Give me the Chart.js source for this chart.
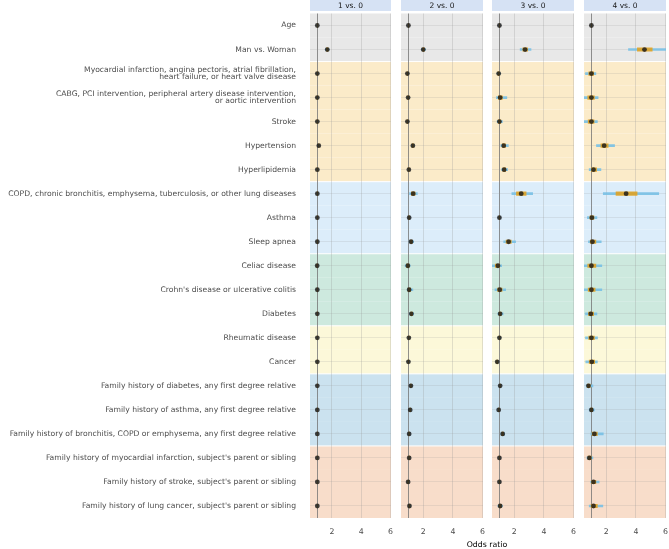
<!DOCTYPE html>
<html>
<head>
<meta charset="utf-8">
<script src="https://cdn.jsdelivr.net/npm/chart.js@4"></script>
<style>
  body { margin: 0; background: #fff; width: 669px; height: 549px; overflow: hidden; position: relative; font-family: 'DejaVu Sans', sans-serif; }
  canvas { position: absolute; top: 0; }
  #xtitle { position: absolute; left: 437px; width: 100px; top: 539px; text-align: center; font-size: 7.8px; line-height: 12px; color: #000; }
</style>
</head>
<body>
<canvas id="p0" width="395" height="549" style="left:0px"></canvas>
<canvas id="p1" width="86" height="549" style="left:401px"></canvas>
<canvas id="p2" width="86" height="549" style="left:492px"></canvas>
<canvas id="p3" width="86" height="549" style="left:584px"></canvas>
<div id="xtitle">Odds ratio</div>
<script>
// rows (top to bottom) and the group each row belongs to
const rowLabels = [
  'Age',
  'Man vs. Woman',
  ['Myocardial infarction, angina pectoris, atrial fibrillation,', 'heart failure, or heart valve disease'],
  ['CABG, PCI intervention, peripheral artery disease intervention,', 'or aortic intervention'],
  'Stroke',
  'Hypertension',
  'Hyperlipidemia',
  'COPD, chronic bronchitis, emphysema, tuberculosis, or other lung diseases',
  'Asthma',
  'Sleep apnea',
  'Celiac disease',
  "Crohn's disease or ulcerative colitis",
  'Diabetes',
  'Rheumatic disease',
  'Cancer',
  'Family history of diabetes, any first degree relative',
  'Family history of asthma, any first degree relative',
  'Family history of bronchitis, COPD or emphysema, any first degree relative',
  "Family history of myocardial infarction, subject's parent or sibling",
  "Family history of stroke, subject's parent or sibling",
  "Family history of lung cancer, subject's parent or sibling"
];
const groups = [0, 0, 1, 1, 1, 1, 1, 2, 2, 2, 3, 3, 3, 4, 4, 5, 5, 5, 6, 6, 6];
const panels = ['1 vs. 0', '2 vs. 0', '3 vs. 0', '4 vs. 0'];
const xTicks = [1, 2, 4, 6];

// point estimates (odds ratios), one array per panel
const est = [
  [1.0, 1.68, 1.0, 1.0, 1.0, 1.1, 1.0, 1.0, 1.0, 1.0, 0.99, 1.0, 1.0, 1.0, 1.0, 1.0, 1.0, 1.0, 1.0, 1.0, 1.0],
  [1.0, 2.0, 0.93, 0.98, 0.93, 1.3, 1.03, 1.32, 1.05, 1.18, 0.96, 1.05, 1.2, 1.03, 1.0, 1.17, 1.12, 1.05, 1.05, 0.98, 1.07],
  [1.0, 2.73, 0.95, 1.05, 1.0, 1.29, 1.32, 2.47, 1.0, 1.62, 0.9, 1.02, 1.05, 1.0, 0.85, 1.05, 0.95, 1.22, 1.0, 1.0, 1.05],
  [1.0, 4.58, 1.0, 1.0, 1.0, 1.86, 1.14, 3.34, 1.03, 1.07, 1.0, 1.0, 0.96, 1.0, 1.03, 0.8, 1.0, 1.2, 0.86, 1.14, 1.14]
];
// wide interval
const outerLo = [
  [0.98, 1.55, 0.95, 0.95, 0.95, 1.05, 0.97, 0.96, 0.98, 0.96, 0.92, 0.95, 0.96, 0.97, 0.97, 0.98, 0.98, 0.97, 0.98, 0.98, 0.97],
  [0.98, 1.88, 0.88, 0.92, 0.88, 1.22, 0.98, 1.08, 1.0, 1.05, 0.78, 0.92, 1.08, 0.98, 0.95, 1.1, 1.06, 0.98, 1.0, 0.92, 1.0],
  [0.97, 2.4, 0.85, 0.8, 0.85, 1.1, 1.15, 1.84, 0.95, 1.29, 0.48, 0.7, 0.9, 0.95, 0.8, 1.0, 0.9, 1.1, 0.95, 0.95, 0.9],
  [0.97, 3.5, 0.6, 0.45, 0.5, 1.34, 0.85, 1.8, 0.73, 0.8, 0.4, 0.52, 0.6, 0.6, 0.62, 0.65, 0.85, 0.96, 0.7, 0.95, 0.85]
];
const outerHi = [
  [1.02, 1.8, 1.05, 1.05, 1.05, 1.15, 1.05, 1.05, 1.02, 1.05, 1.05, 1.06, 1.05, 1.03, 1.03, 1.03, 1.02, 1.04, 1.02, 1.02, 1.04],
  [1.02, 2.15, 1.0, 1.05, 1.0, 1.38, 1.08, 1.6, 1.1, 1.35, 1.12, 1.3, 1.35, 1.08, 1.05, 1.24, 1.18, 1.12, 1.1, 1.05, 1.15],
  [1.03, 3.13, 1.05, 1.5, 1.2, 1.6, 1.55, 3.24, 1.05, 2.09, 1.15, 1.42, 1.25, 1.08, 0.92, 1.1, 1.0, 1.35, 1.05, 1.07, 1.2],
  [1.03, 6.3, 1.3, 1.45, 1.4, 2.56, 1.64, 5.54, 1.37, 1.66, 1.7, 1.7, 1.37, 1.41, 1.4, 1.1, 1.2, 1.8, 1.1, 1.52, 1.77]
];
// narrow interval
const innerLo = [
  [0.99, 1.62, 0.98, 0.98, 0.98, 1.08, 0.99, 0.98, 0.99, 0.98, 0.95, 0.98, 0.98, 0.99, 0.99, 0.99, 0.99, 0.99, 0.99, 0.99, 0.99],
  [0.99, 1.95, 0.9, 0.95, 0.9, 1.26, 1.0, 1.2, 1.02, 1.12, 0.88, 0.98, 1.14, 1.0, 0.98, 1.14, 1.09, 1.02, 1.02, 0.95, 1.03],
  [0.99, 2.58, 0.9, 0.93, 0.93, 1.2, 1.24, 2.15, 0.98, 1.45, 0.72, 0.88, 0.98, 0.98, 0.82, 1.03, 0.93, 1.16, 0.98, 0.98, 0.98],
  [0.99, 4.1, 0.82, 0.75, 0.78, 1.64, 1.0, 2.66, 0.9, 0.92, 0.75, 0.78, 0.8, 0.82, 0.85, 0.72, 0.93, 1.05, 0.78, 1.02, 0.98]
];
const innerHi = [
  [1.01, 1.74, 1.02, 1.02, 1.02, 1.12, 1.02, 1.02, 1.01, 1.02, 1.02, 1.02, 1.02, 1.01, 1.01, 1.01, 1.01, 1.01, 1.01, 1.01, 1.01],
  [1.01, 2.07, 0.96, 1.01, 0.96, 1.34, 1.06, 1.45, 1.08, 1.25, 1.04, 1.15, 1.28, 1.05, 1.02, 1.2, 1.15, 1.08, 1.08, 1.01, 1.1],
  [1.01, 2.9, 1.0, 1.2, 1.08, 1.4, 1.42, 2.8, 1.02, 1.8, 1.02, 1.18, 1.12, 1.03, 0.88, 1.07, 0.98, 1.28, 1.02, 1.03, 1.12],
  [1.01, 5.1, 1.15, 1.2, 1.18, 2.13, 1.35, 4.08, 1.17, 1.3, 1.3, 1.25, 1.15, 1.2, 1.22, 0.92, 1.08, 1.4, 0.98, 1.3, 1.4]
];

const bandColors = ['#e8e8e8', '#fbebc9', '#dcedfa', '#cde9de', '#fcf8d9', '#cbe2ef', '#f8ddca'];
const stripColor = '#d6e2f4';
const textColor = '#4d4d4d';
const fontFamily = "'DejaVu Sans', sans-serif";

const bandPlugin = {
  id: 'bands',
  beforeDraw(chart) {
    const { ctx, chartArea: a, scales: { y } } = chart;
    const step = y.getPixelForValue(1) - y.getPixelForValue(0);
    const w = a.right - a.left;
    ctx.save();
    ctx.fillStyle = stripColor;
    ctx.fillRect(a.left, 0, w, 11);
    groups.forEach((g, i) => {
      ctx.fillStyle = bandColors[g];
      ctx.fillRect(a.left, y.getPixelForValue(i) - step / 2, w, step);
    });
    ctx.fillStyle = '#ffffff';
    groups.forEach((g, i) => {
      if (i > 0 && g !== groups[i - 1]) {
        ctx.fillRect(a.left, y.getPixelForValue(i) - step / 2 - 0.5, w, 1);
      }
    });
    ctx.restore();
  }
};

function makeChart(p) {
  const first = p === 0;
  new Chart(document.getElementById('p' + p), {
    type: 'bar',
    data: {
      labels: rowLabels,
      datasets: [
        {
          type: 'line',
          data: est[p],
          showLine: false,
          pointRadius: 2.4,
          pointBorderWidth: 0,
          pointBackgroundColor: 'rgba(25,25,25,0.82)',
          order: 0
        },
        {
          type: 'bar',
          data: innerLo[p].map((v, i) => [v, innerHi[p][i]]),
          backgroundColor: 'rgba(228,160,25,0.85)',
          barThickness: 3.5,
          grouped: false,
          order: 1
        },
        {
          type: 'bar',
          data: outerLo[p].map((v, i) => [v, outerHi[p][i]]),
          backgroundColor: 'rgba(120,192,228,0.9)',
          barThickness: 2,
          grouped: false,
          order: 2
        }
      ]
    },
    options: {
      indexAxis: 'y',
      responsive: false,
      animation: false,
      layout: { autoPadding: false, padding: { left: 0, right: 4, top: 0, bottom: 0 } },
      plugins: {
        legend: { display: false },
        tooltip: { enabled: false },
        title: {
          display: true,
          text: panels[p],
          fullSize: false,
          color: '#1a1a1a',
          font: { family: fontFamily, size: 7.5, weight: 'normal', lineHeight: 1 },
          padding: { top: 2, bottom: 4 }
        }
      },
      scales: {
        x: {
          type: 'linear',
          min: 0.5,
          max: 6.03,
          afterBuildTicks: s => { s.ticks = xTicks.map(v => ({ value: v })); },
          afterFit: s => { s.height = 31; },
          border: { display: false },
          grid: {
            drawTicks: true,
            tickLength: 9,
            tickColor: 'rgba(0,0,0,0)',
            color: c => c.tick && c.tick.value === 1 ? 'rgba(110,110,110,0.75)' : 'rgba(150,150,150,0.35)',
            lineWidth: c => c.tick && c.tick.value === 1 ? 1 : 0.8
          },
          ticks: {
            padding: 0,
            color: textColor,
            maxRotation: 0,
            autoSkip: false,
            font: { family: fontFamily, size: 7.8 },
            callback: v => v === 1 ? '' : v
          }
        },
        y: {
          type: 'category',
          offset: true,
          afterFit: s => { s.width = first ? 310 : 0; },
          border: { display: false },
          grid: {
            offset: false,
            drawTicks: first,
            tickLength: 14,
            tickColor: 'rgba(0,0,0,0)',
            color: 'rgba(150,150,150,0.3)',
            lineWidth: 0.6
          },
          ticks: {
            display: first,
            autoSkip: false,
            padding: 0,
            color: textColor,
            font: { family: fontFamily, size: 7.65, lineHeight: 0.9 }
          }
        }
      }
    },
    plugins: [bandPlugin]
  });
}

panels.forEach((_, p) => makeChart(p));
</script>
</body>
</html>
